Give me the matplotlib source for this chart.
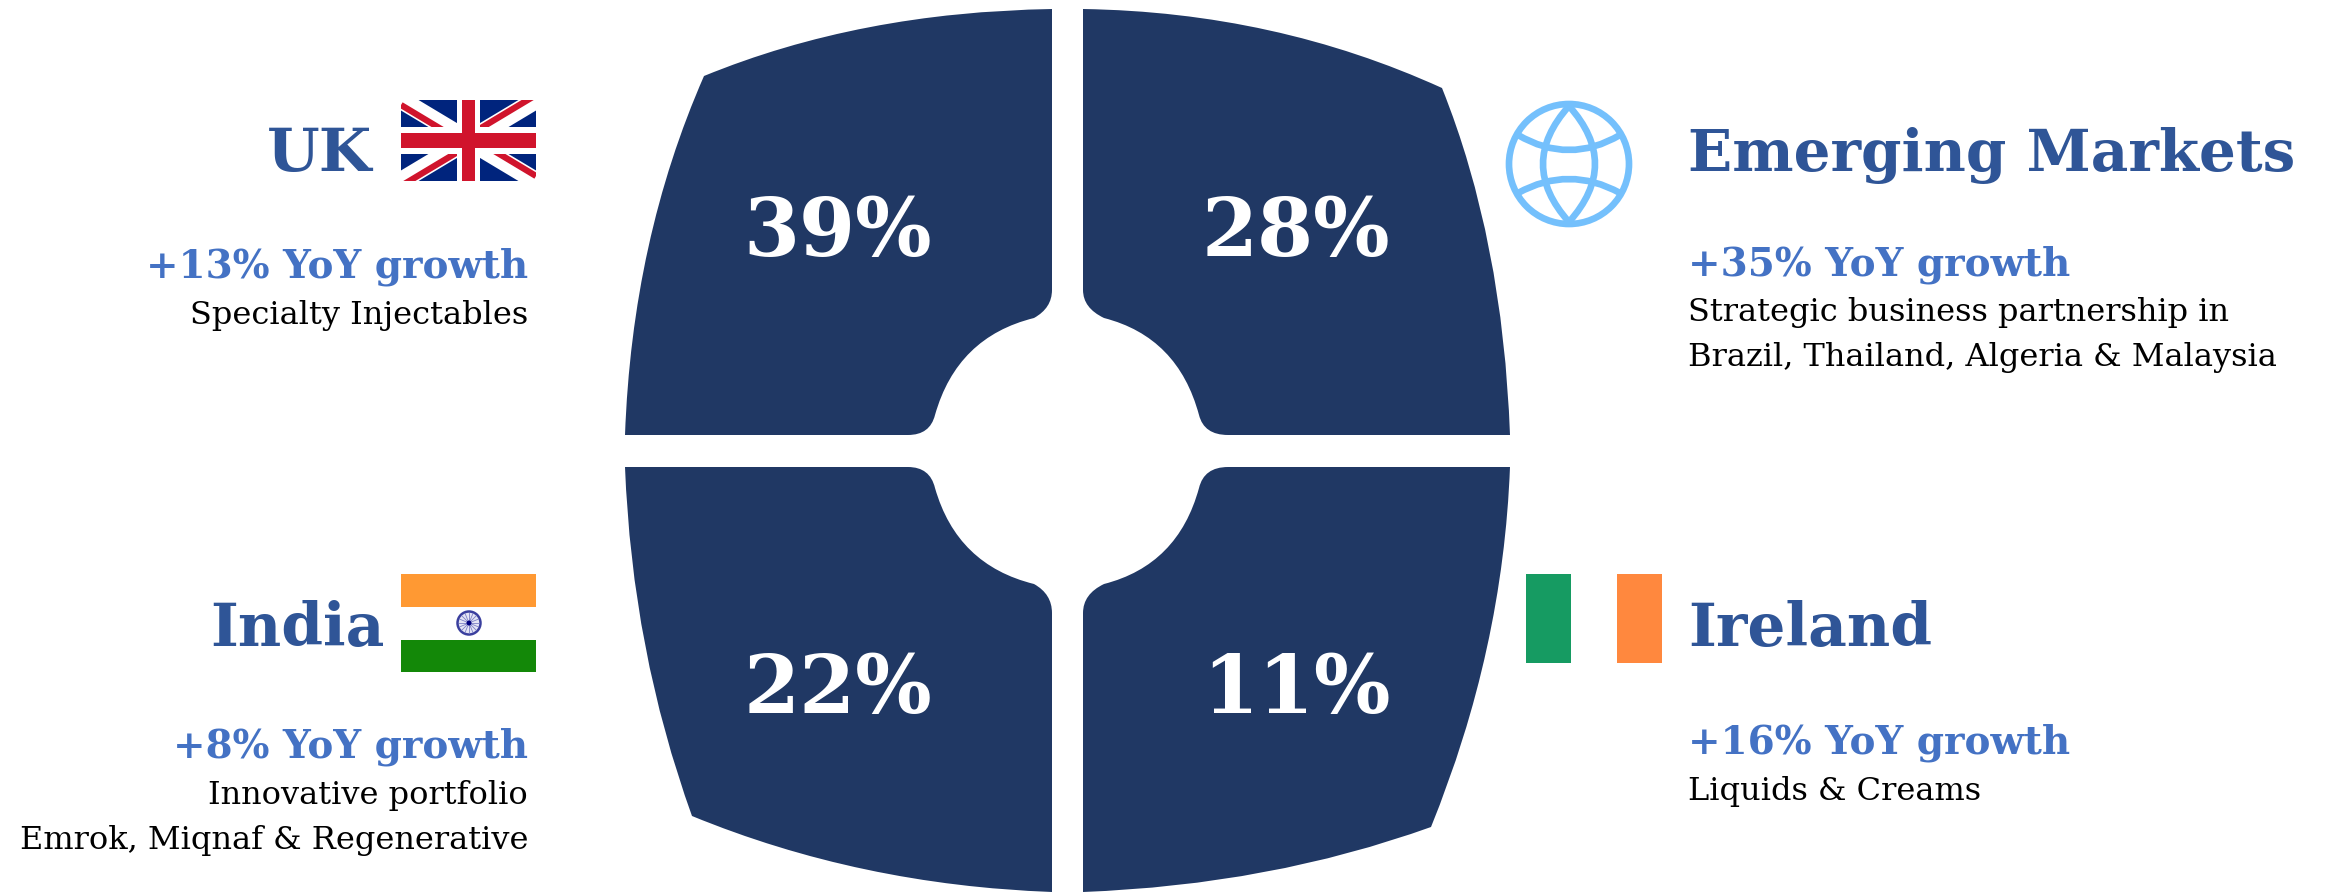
import matplotlib
matplotlib.use("Agg")
import matplotlib.pyplot as plt
import numpy as np
from matplotlib.path import Path
from matplotlib.patches import PathPatch, Rectangle, Circle

W, H = 2326, 892

regions = ["UK", "Emerging Markets", "India", "Ireland"]
shares = [39, 28, 22, 11]
growth = [13, 35, 8, 16]
details = [
    ["Specialty Injectables"],
    ["Strategic business partnership in", "Brazil, Thailand, Algeria & Malaysia"],
    ["Innovative portfolio", "Emrok, Miqnaf & Regenerative"],
    ["Liquids & Creams"],
]

NAVY = "#203864"
TITLE = "#2F5597"
BLUE = "#4472C4"
GLOBE = "#74C0FC"
SERIF = "DejaVu Serif"

fig = plt.figure(figsize=(W / 100, H / 100), dpi=100)
ax = fig.add_axes([0, 0, 1, 1])
ax.set_xlim(0, W)
ax.set_ylim(H, 0)
ax.axis("off")


def petal(points):
    # first point is a moveto, the rest are (ctrl, end) quadratic pairs or plain line ends
    verts = [points[0]]
    codes = [Path.MOVETO]
    for p in points[1:]:
        if len(p) == 4:
            verts += [(p[0], p[1]), (p[2], p[3])]
            codes += [Path.CURVE3, Path.CURVE3]
        else:
            verts.append(p)
            codes.append(Path.LINETO)
    verts.append(points[0])
    codes.append(Path.CLOSEPOLY)
    ax.add_patch(PathPatch(Path(verts, codes), fc=NAVY, ec="none"))


petal([(1052, 9), (1052, 290), (1052, 308, 1034, 318), (957, 337, 935, 415),
       (930, 435, 908, 435), (625, 435), (632, 240, 704, 76), (860, 12, 1052, 9)])
petal([(1083, 9), (1083, 290), (1083, 308, 1104, 318), (1178, 337, 1199, 415),
       (1204, 435, 1228, 435), (1510, 435), (1503, 240, 1442, 88), (1275, 12, 1083, 9)])
petal([(625, 467), (908, 467), (930, 467, 935, 488), (957, 565, 1034, 584),
       (1052, 594, 1052, 613), (1052, 892), (860, 885, 692, 816), (632, 650, 625, 467)])
petal([(1510, 467), (1228, 467), (1204, 467, 1199, 488), (1178, 565, 1104, 584),
       (1083, 594, 1083, 613), (1083, 892), (1270, 885, 1431, 827), (1503, 650, 1510, 467)])

# share labels in the four segments
share_pos = [(838, 256), (1296, 256), (838, 713), (1296, 713)]
for s, (x, y) in zip(shares, share_pos):
    ax.text(x, y, f"{s}%", color="white", fontsize=58, fontweight="bold",
            family=SERIF, ha="center", va="baseline")

# UK flag, the red diagonals sit off centre in each quarter
x0, x1, y0, y1 = 401, 536, 100, 181
xm, ym = (x0 + x1) / 2, (y0 + y1) / 2
ax.add_patch(Rectangle((x0, y0), x1 - x0, y1 - y0, fc="#00247D", ec="none", zorder=1))
flag_clip = Rectangle((x0, y0), x1 - x0, y1 - y0, transform=ax.transData)
for cx_, cy_ in [(x0, y0), (x0, y1)]:
    line, = ax.plot([cx_, x0 + x1 - cx_], [cy_, y0 + y1 - cy_], color="white", lw=13,
                    solid_capstyle="butt", zorder=2)
    line.set_clip_path(flag_clip)
for ex, ey, dy in [(x0, y0, 5), (x1, y0, -5), (x1, y1, -5), (x0, y1, 5)]:
    quarter = Rectangle((min(ex, xm), min(ey, ym)), abs(ex - xm), abs(ey - ym), transform=ax.transData)
    line, = ax.plot([xm, ex], [ym + dy, ey + dy], color="#D0142C", lw=4.5,
                    solid_capstyle="butt", zorder=3)
    line.set_clip_path(quarter)
ax.add_patch(Rectangle((x0 + 56, y0), 23, y1 - y0, fc="white", ec="none", zorder=4))
ax.add_patch(Rectangle((x0, y0 + 27), x1 - x0, 27, fc="white", ec="none", zorder=4))
ax.add_patch(Rectangle((x0 + 61, y0), 13, y1 - y0, fc="#D0142C", ec="none", zorder=5))
ax.add_patch(Rectangle((x0, y0 + 33), x1 - x0, 15, fc="#D0142C", ec="none", zorder=5))

# India flag
ax.add_patch(Rectangle((401, 574), 135, 33, fc="#FF9933", ec="none"))
ax.add_patch(Rectangle((401, 640), 135, 32, fc="#138808", ec="none"))
ax.add_patch(Circle((469, 623), 11.5, fc="#E4E5F5", ec="#3A3F9E", lw=1.8))
for a in np.arange(0, 2 * np.pi, np.pi / 8):
    ax.plot([469, 469 + 10 * np.cos(a)], [623, 623 + 10 * np.sin(a)], color="#7C80C4", lw=0.6)
ax.add_patch(Circle((469, 623), 2.5, fc="#000080", ec="none", zorder=3))

# Ireland flag
ax.add_patch(Rectangle((1526, 574), 45, 89, fc="#169B62", ec="none"))
ax.add_patch(Rectangle((1617, 574), 45, 89, fc="#FF883E", ec="none"))

# globe icon
cx, cy = 1569, 164
gl = dict(fc="none", ec=GLOBE, lw=4.8)
ax.add_patch(Circle((cx, cy), 60, **gl))
for side in [-1, 1]:
    ax.add_patch(PathPatch(Path([(cx, cy - 58), (cx + side * 52, cy), (cx, cy + 58)],
                                [Path.MOVETO, Path.CURVE3, Path.CURVE3]), **gl))
    ax.add_patch(PathPatch(Path([(cx - 51, cy + side * 29), (cx, cy + 1), (cx + 51, cy + side * 29)],
                                [Path.MOVETO, Path.CURVE3, Path.CURVE3]), **gl))

# region text blocks: right aligned on the left side, left aligned on the right side
title_pos = [(372, 171, "right"), (1688, 171, "left"), (385, 646, "right"), (1688, 646, "left")]
title_size = [43.5, 41.8, 43, 43]
growth_pos = [(528, 278, "right"), (1688, 276, "left"), (528, 758, "right"), (1688, 754, "left")]
detail_pos = [(528, 324), (1688, 321), (528, 804), (1688, 800)]

for i, name in enumerate(regions):
    x, y, ha = title_pos[i]
    ax.text(x, y, name, color=TITLE, fontsize=title_size[i], fontweight="bold", family=SERIF,
            ha=ha, va="baseline")
    x, y, ha = growth_pos[i]
    ax.text(x, y, f"+{growth[i]}% YoY growth", color=BLUE, fontsize=28, fontweight="bold",
            family=SERIF, ha=ha, va="baseline")
    x, y = detail_pos[i]
    for j, line in enumerate(details[i]):
        ax.text(x, y + j * 45, line, color="black", fontsize=23, family=SERIF, ha=ha, va="baseline")

fig.savefig("out.png", dpi=100, facecolor="white")
